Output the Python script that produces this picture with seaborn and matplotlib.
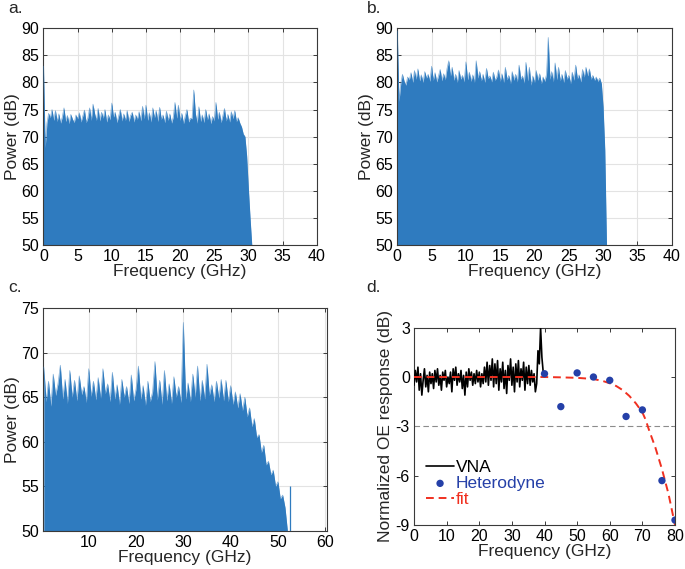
import numpy as np
import matplotlib
matplotlib.use("Agg")
import matplotlib.pyplot as plt
import seaborn as sns

# ---- panel a: spectrum, 0.25 GHz bins starting at 0 GHz ----
step_a = 0.25
power_a = [
    83.0, 68.0, 72.5, 74.3, 73.5, 75.0, 73.0, 74.8, 72.8, 74.2, 72.5, 73.6,
    75.3, 72.8, 73.9, 72.4, 74.1, 73.2, 72.6, 74.0, 73.3, 74.4, 72.7, 73.8,
    74.9, 72.6, 73.5, 75.3, 73.0, 76.0, 74.2, 73.0, 75.2, 72.9, 74.5, 73.4,
    75.0, 72.7, 74.0, 73.1, 76.2, 73.6, 74.5, 72.6, 73.8, 75.0, 72.9, 74.2,
    73.0, 74.8, 72.8, 73.9, 74.5, 72.7, 74.0, 73.2, 74.6, 72.9, 75.6, 73.3,
    75.8, 73.0, 74.4, 72.7, 75.3, 73.5, 74.8, 72.8, 75.4, 73.2, 74.0, 72.6,
    74.7, 73.0, 74.2, 72.5, 73.6, 76.3, 73.4, 75.8, 73.0, 74.3, 72.4, 73.8,
    75.0, 72.7, 73.4, 73.3, 78.6, 74.2, 72.5, 75.5, 72.8, 74.0, 72.6, 75.0,
    73.1, 74.2, 72.4, 73.7, 72.9, 76.3, 73.2, 74.5, 72.6, 73.8, 75.2, 72.9,
    74.1, 72.7, 74.6, 73.3, 74.8, 72.8, 73.5, 72.5, 71.8, 70.5, 70.0, 66.5,
    60.5, 55.0, 50.0,
]

# ---- panel b: spectrum, 0.25 GHz bins starting at 0 GHz ----
step_b = 0.25
power_b = [
    89.5, 76.5, 79.8, 81.5, 80.2, 79.5, 81.0, 80.5, 81.8, 80.0, 82.2, 80.6,
    82.5, 80.3, 81.4, 80.0, 82.0, 80.8, 81.5, 80.2, 83.0, 80.4, 81.8, 80.1,
    81.2, 82.4, 80.3, 81.6, 80.5, 82.6, 84.0, 81.2, 82.8, 80.4, 81.5, 80.0,
    82.2, 80.6, 81.3, 80.1, 83.8, 80.5, 81.9, 80.2, 81.4, 80.0, 84.0, 80.8,
    82.0, 80.3, 81.5, 80.0, 82.6, 80.7, 81.2, 80.1, 81.9, 80.4, 81.0, 82.3,
    80.2, 81.6, 80.0, 82.8, 80.5, 81.3, 79.8, 82.0, 80.4, 81.5, 80.1, 83.2,
    80.6, 81.2, 79.9, 83.7, 80.3, 82.8, 79.5, 81.2, 80.0, 82.2, 80.4, 81.6,
    79.8, 81.0, 80.2, 81.5, 88.3, 80.6, 82.0, 80.1, 83.6, 80.5, 82.8, 80.3,
    81.5, 80.0, 82.2, 80.6, 81.3, 79.8, 81.9, 80.4, 83.2, 80.7, 81.4, 80.1,
    82.4, 81.0, 82.8, 81.2, 82.5, 80.6, 81.3, 80.4, 81.0, 80.2, 80.8, 79.8,
    75.5, 67.5, 50.0,
]

# ---- panel c: spectrum, 0.5 GHz bins starting at 0.5 GHz ----
start_c = 0.5
step_c = 0.5
power_c = [
    68.4, 64.5, 66.8, 64.0, 67.6, 65.2, 66.5, 68.6, 64.8, 67.0, 64.3, 68.0,
    65.0, 66.9, 64.6, 67.4, 65.3, 66.2, 64.4, 68.2, 65.1, 66.8, 64.7, 67.2,
    64.9, 68.2, 65.4, 66.5, 64.5, 67.8, 64.8, 66.4, 64.2, 67.0, 65.0, 66.2,
    64.3, 67.5, 64.6, 65.9, 68.5, 64.8, 66.3, 64.1, 66.8, 64.5, 65.6, 69.0,
    64.7, 66.9, 64.2, 68.0, 64.6, 66.5, 64.3, 67.3, 65.0, 66.2, 64.4, 73.4,
    64.8, 66.6, 64.5, 67.6, 65.0, 68.5, 64.6, 66.9, 64.8, 68.7, 65.2, 66.4,
    64.5, 66.8, 64.9, 67.0, 64.6, 66.9, 64.5, 66.3, 64.2, 65.6, 63.8, 65.4,
    63.5, 65.0, 62.8, 63.8, 61.7, 62.6, 60.5, 60.8, 58.8, 59.6, 57.4, 57.8,
    56.3, 56.8, 55.0, 55.5, 53.6, 54.0, 52.6, 50.0,
]
spur_freq_c = [52.6]
spur_power_c = [55.0]

# ---- panel d: OE response ----
step_vna = 0.4
vna = [
    -0.5, 0.4, -0.3, 0.6, -0.8, 0.2, -1.1, -0.2, 0.5, -0.6, 0.1, -0.9,
    0.3, -0.4, 0.2, -0.7, 0.4, -0.3, 0.5, -0.5, 0.1, -0.8, 0.3, -0.2,
    0.4, -0.6, 0.0, -0.4, 0.3, -0.9, 0.5, -0.2, 0.6, -0.5, 0.2, -0.3,
    0.4, -0.7, 0.1, -1.1, 0.3, -0.6, 0.5, -0.2, 0.3, -0.5, 0.2, -0.4,
    0.4, -0.3, 0.3, -0.6, 0.2, -0.4, 0.6, -0.3, 0.9, -0.5, 0.7, -0.2,
    1.1, -0.6, 0.8, -0.4, 1.0, -0.8, 0.5, -0.3, 0.9, -0.7, 0.4, -1.0,
    0.7, -0.2, 1.1, -0.5, 0.6, -0.9, 0.8, -0.3, 1.0, -0.6, 0.5, -0.2,
    0.9, -0.8, 0.6, -0.4, 0.7, -0.5, 0.4, -0.3, 0.2, -0.9, -0.4, 1.6,
    0.8, 3.0, 1.2, 0.3,
]
het_freq = [40, 45, 50, 55, 60, 65, 70, 76, 80]
het_resp = [0.2, -1.8, 0.25, 0.0, -0.2, -2.4, -2.0, -6.3, -8.7]
fit_freq = [0, 40, 45, 50, 55, 58, 60, 62, 64, 66, 68, 70, 71, 72, 74, 76, 78, 80]
fit_resp = [0.0, 0.0, -0.02, -0.05, -0.12, -0.25, -0.38, -0.55, -0.8, -1.15,
            -1.6, -2.15, -2.6, -3.2, -4.3, -5.6, -7.1, -9.0]

sns.set_theme(style="white")
plt.rcParams["font.family"] = ["Liberation Sans", "DejaVu Sans"]
plt.rcParams["axes.unicode_minus"] = False

blue = "#2f7bbf"
het_blue = "#2540a8"
fit_red = "#f03020"
spine_col = "#3a3a3a"
grid_col = "#e3e3e3"
tick_fs = 11.5
label_fs = 12.5

fig = plt.figure(figsize=(6.85, 5.69), dpi=100)
ax_a = fig.add_axes([0.0635, 0.5694, 0.3988, 0.3809])
ax_b = fig.add_axes([0.580, 0.5694, 0.4006, 0.3809])
ax_c = fig.add_axes([0.0632, 0.0673, 0.4137, 0.3909])
ax_d = fig.add_axes([0.6044, 0.0773, 0.3810, 0.3468])


def style_axes(ax, grid=True):
    for s in ax.spines.values():
        s.set_color(spine_col)
        s.set_linewidth(0.8)
    ax.tick_params(direction="in", length=3, width=0.7, top=True, right=True,
                   labelsize=tick_fs, colors=spine_col, labelcolor="black",
                   pad=3, bottom=True, left=True)
    if grid:
        ax.grid(True, color=grid_col, lw=0.8)
        ax.set_axisbelow(True)


def spectrum(ax, freq, power, floor):
    freq = np.asarray(freq)
    power = np.asarray(power)
    ax.fill_between(freq, floor, power, color=blue, lw=0, zorder=2)
    sns.lineplot(x=freq, y=power, ax=ax, color=blue, lw=0.5, alpha=0.6,
                 zorder=3, sort=False)


# a
freq_a = np.arange(len(power_a)) * step_a
spectrum(ax_a, freq_a, power_a, 50)
ax_a.set_xlim(0, 40)
ax_a.set_ylim(50, 90)
ax_a.set_xticks(range(0, 41, 5))
ax_a.set_yticks(range(50, 91, 5))
style_axes(ax_a)

# b
freq_b = np.arange(len(power_b)) * step_b
spectrum(ax_b, freq_b, power_b, 50)
ax_b.set_xlim(0, 40)
ax_b.set_ylim(50, 90)
ax_b.set_xticks(range(0, 41, 5))
ax_b.set_yticks(range(50, 91, 5))
style_axes(ax_b)

# c
freq_c = start_c + np.arange(len(power_c)) * step_c
spectrum(ax_c, freq_c, power_c, 50)
ax_c.vlines(spur_freq_c, 50, spur_power_c, color=blue, lw=0.9, zorder=3)
ax_c.set_xlim(0.4, 60.3)
ax_c.set_ylim(50, 75)
ax_c.set_xticks(range(10, 61, 10))
ax_c.set_yticks(range(50, 76, 5))
style_axes(ax_c)

for ax in (ax_a, ax_b, ax_c):
    ax.set_xlabel("Frequency (GHz)", fontsize=label_fs, labelpad=0)
    ax.set_ylabel("Power (dB)", fontsize=label_fs, labelpad=1)

# d
freq_vna = np.arange(len(vna)) * step_vna
ax_d.axhline(-3, color="#8c8c8c", lw=0.8, ls=(0, (5, 3)), zorder=1)
sns.lineplot(x=freq_vna, y=vna, ax=ax_d, color="black", lw=1.2, label="VNA",
             zorder=3, sort=False)
sns.scatterplot(x=het_freq, y=het_resp, ax=ax_d, color=het_blue, s=28,
                edgecolor="none", label="Heterodyne", zorder=5)
sns.lineplot(x=fit_freq, y=fit_resp, ax=ax_d, color=fit_red, lw=1.4,
             label="fit", zorder=4)
ax_d.lines[-1].set_linestyle((0, (4, 2.5)))
ax_d.set_xlim(0, 80)
ax_d.set_ylim(-9, 3)
ax_d.set_xticks(range(0, 81, 10))
ax_d.set_yticks([-9, -6, -3, 0, 3])
style_axes(ax_d, grid=False)
ax_d.set_xlabel("Frequency (GHz)", fontsize=label_fs, labelpad=0)
ax_d.set_ylabel("Normalized OE response (dB)", fontsize=label_fs, labelpad=2)
leg = ax_d.legend(loc="lower left", bbox_to_anchor=(0.0, 0.03), frameon=False,
                  fontsize=label_fs, handlelength=1.6, handletextpad=0.1,
                  labelspacing=0.05, borderaxespad=0.3)
for txt, col in zip(leg.get_texts(), ["black", het_blue, fit_red]):
    txt.set_color(col)

# panel letters
for lbl, x, y in [("a.", 0.012, 0.998), ("b.", 0.535, 0.998),
                  ("c.", 0.012, 0.508), ("d.", 0.535, 0.508)]:
    fig.text(x, y, lbl, fontsize=label_fs, va="top", ha="left")

fig.savefig("out.png", dpi=100)
